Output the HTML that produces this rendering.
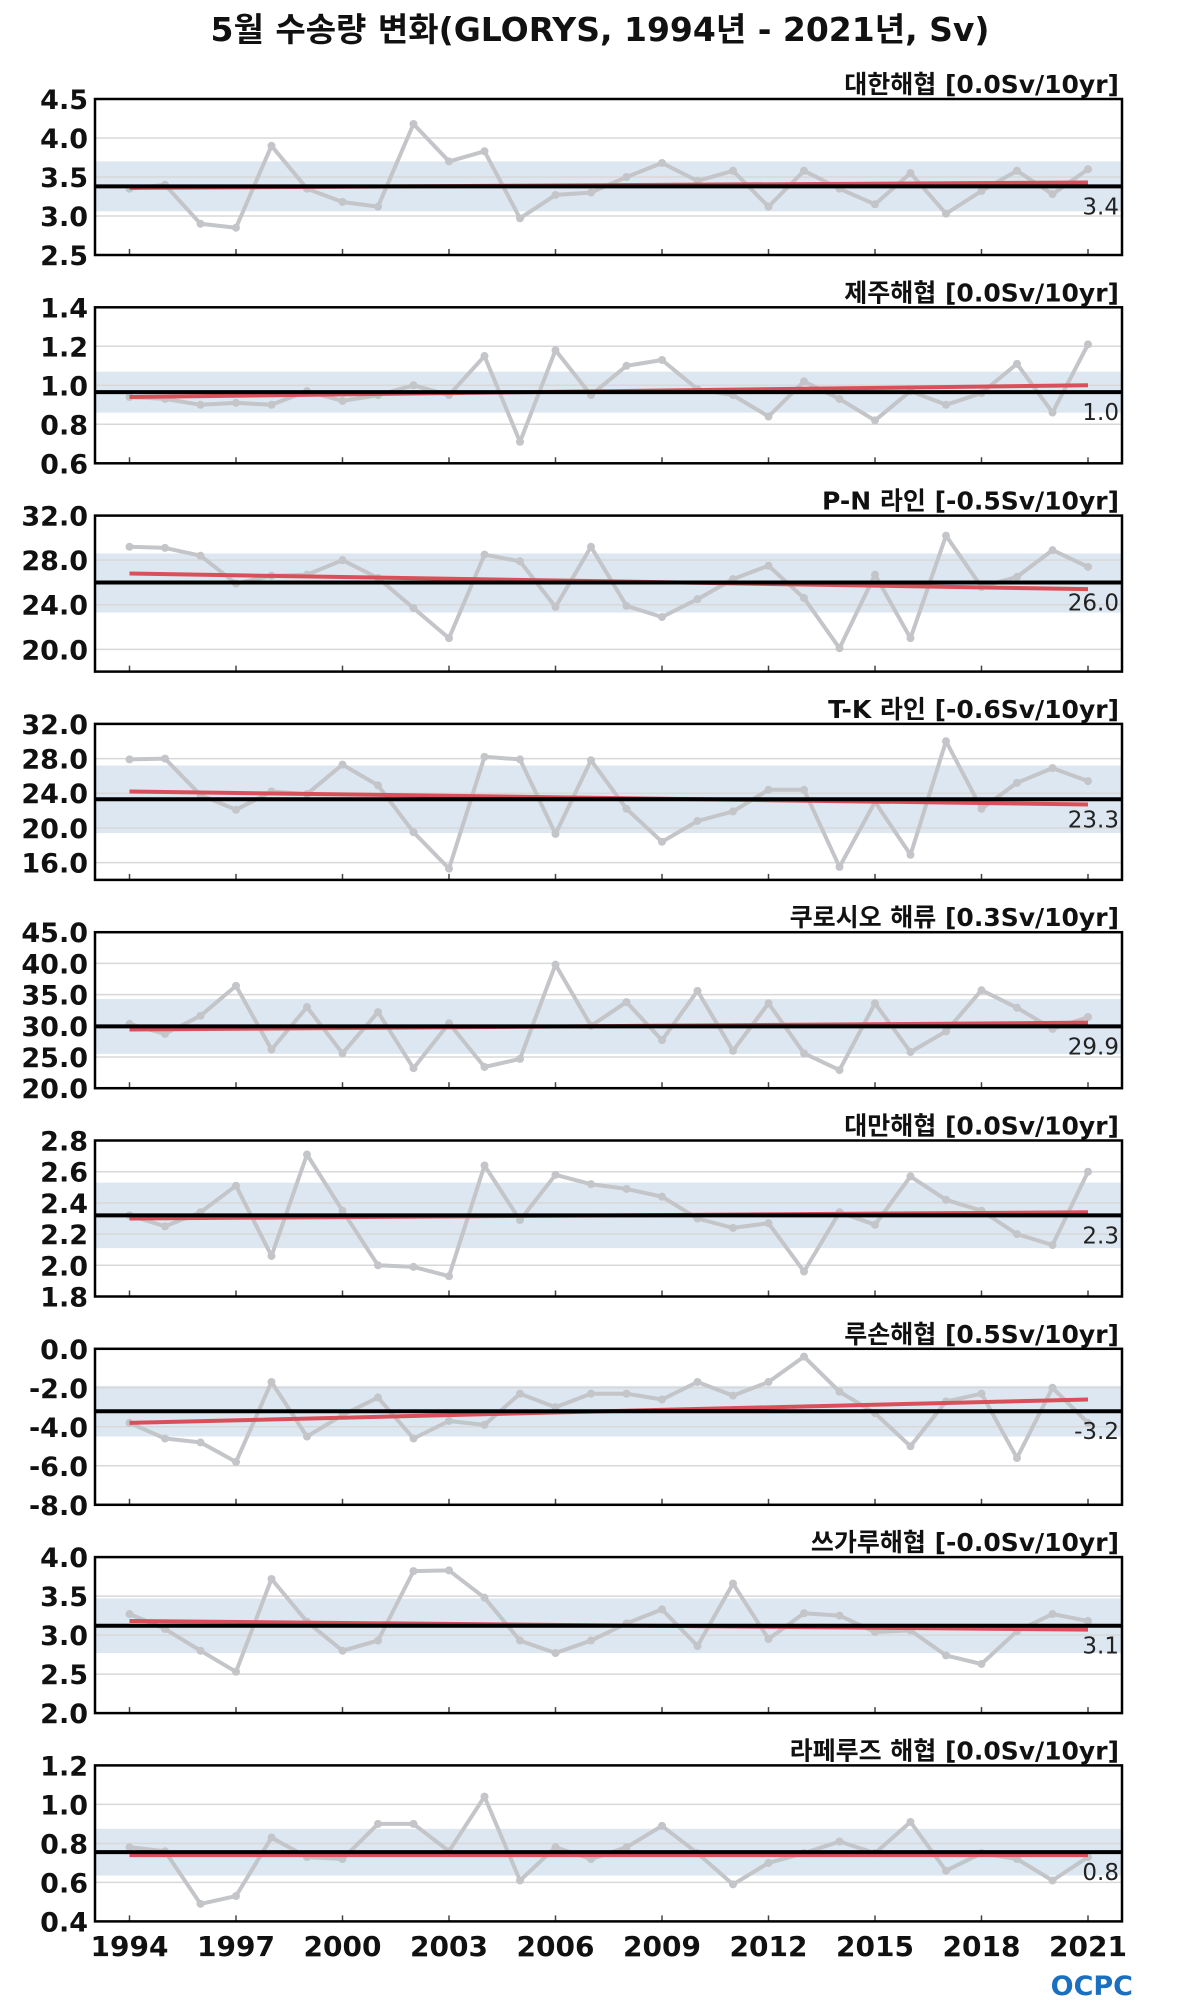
<!DOCTYPE html>
<html><head><meta charset="utf-8"><style>
html,body{margin:0;padding:0;background:#fff;}
svg{display:block;}
</style></head><body>
<svg id="chart" width="1200" height="2000" viewBox="0 0 1200 2000" xmlns="http://www.w3.org/2000/svg">
<text x="600" y="41" text-anchor="middle" font-family="DejaVu Sans, 'Noto Sans CJK KR', sans-serif" font-weight="bold" font-size="33" fill="#111">5월 수송량 변화(GLORYS, 1994년 - 2021년, Sv)</text>
<text x="1133" y="1995" text-anchor="end" font-family="DejaVu Sans, sans-serif" font-weight="bold" font-size="27" fill="#1a6fc0">OCPC</text>
</svg>
<script>
const years = [1994,1995,1996,1997,1998,1999,2000,2001,2002,2003,2004,2005,2006,2007,2008,2009,2010,2011,2012,2013,2014,2015,2016,2017,2018,2019,2020,2021];
const xTickYears = [1994,1997,2000,2003,2006,2009,2012,2015,2018,2021];
const panelNames = ["대한해협","제주해협","P-N 라인","T-K 라인","쿠로시오 해류","대만해협","루손해협","쓰가루해협","라페루즈 해협"];
const panelTrends = ["[0.0Sv/10yr]","[0.0Sv/10yr]","[-0.5Sv/10yr]","[-0.6Sv/10yr]","[0.3Sv/10yr]","[0.0Sv/10yr]","[0.5Sv/10yr]","[-0.0Sv/10yr]","[0.0Sv/10yr]"];
const yMin = [2.5,0.6,18,14,20,1.8,-8,2.0,0.4];
const yMax = [4.5,1.4,32,32,45,2.8,0,4.0,1.2];
const tickStart = [2.5,0.6,20,16,20,1.8,-8,2.0,0.4];
const tickStep = [0.5,0.2,4,4,5,0.2,2,0.5,0.2];
const s1 = [3.35,3.4,2.9,2.85,3.9,3.35,3.18,3.12,4.18,3.7,3.83,2.97,3.27,3.3,3.5,3.68,3.45,3.58,3.12,3.58,3.35,3.15,3.55,3.03,3.32,3.58,3.28,3.6];
const s2 = [0.94,0.93,0.9,0.91,0.9,0.97,0.92,0.95,1.0,0.95,1.15,0.71,1.18,0.95,1.1,1.13,0.98,0.95,0.84,1.02,0.93,0.82,0.97,0.9,0.96,1.11,0.86,1.21];
const s3 = [29.2,29.1,28.4,25.9,26.6,26.7,28.0,26.4,23.7,21.0,28.5,27.9,23.8,29.2,23.9,22.9,24.5,26.3,27.5,24.6,20.1,26.7,21.0,30.2,25.6,26.5,28.9,27.4];
const s4 = [27.9,28.0,23.8,22.1,24.2,23.9,27.3,24.9,19.5,15.3,28.2,27.9,19.3,27.8,22.2,18.4,20.8,21.9,24.4,24.4,15.5,23.0,16.9,30.0,22.2,25.2,26.9,25.4];
const s5 = [30.3,28.7,31.6,36.4,26.2,33.0,25.6,32.2,23.2,30.4,23.4,24.7,39.8,30.0,33.8,27.7,35.6,26.0,33.6,25.6,22.9,33.6,25.8,29.1,35.7,32.9,29.5,31.4];
const s6 = [2.32,2.25,2.34,2.51,2.06,2.71,2.35,2.0,1.99,1.93,2.64,2.29,2.58,2.52,2.49,2.44,2.3,2.24,2.27,1.96,2.34,2.26,2.57,2.42,2.35,2.2,2.13,2.6];
const s7 = [-3.8,-4.6,-4.8,-5.8,-1.7,-4.5,-3.4,-2.5,-4.6,-3.7,-3.9,-2.3,-3.0,-2.3,-2.3,-2.6,-1.7,-2.4,-1.7,-0.4,-2.2,-3.3,-5.0,-2.7,-2.3,-5.6,-2.0,-3.8];
const s8 = [3.27,3.08,2.8,2.53,3.72,3.17,2.8,2.93,3.82,3.83,3.48,2.93,2.77,2.93,3.15,3.33,2.86,3.66,2.95,3.28,3.25,3.04,3.06,2.74,2.63,3.05,3.27,3.18];
const s9 = [0.78,0.76,0.49,0.53,0.83,0.73,0.72,0.90,0.90,0.76,1.04,0.61,0.78,0.72,0.78,0.89,0.75,0.59,0.70,0.75,0.81,0.75,0.91,0.66,0.75,0.72,0.61,0.73];
const seriesList = [s1,s2,s3,s4,s5,s6,s7,s8,s9];
const means = [3.38,0.965,26.0,23.3,29.9,2.32,-3.2,3.12,0.755];
const meanLabels = ["3.4","1.0","26.0","23.3","29.9","2.3","-3.2","3.1","0.8"];
const bandLo = [3.06,0.86,23.3,19.4,25.5,2.11,-4.5,2.77,0.635];
const bandHi = [3.70,1.07,28.6,27.2,34.3,2.53,-1.9,3.47,0.875];
const trendStart = [3.36,0.94,26.8,24.2,29.4,2.30,-3.8,3.18,0.74];
const trendEnd = [3.43,1.00,25.4,22.7,30.5,2.34,-2.6,3.07,0.74];

const NS = "http://www.w3.org/2000/svg";
const svg = document.getElementById('chart');
const L = 95, R = 1122, H = 156;
const X0 = 129.5, X1 = 1088;
function xScale(yr){ return X0 + (yr - 1994) * (X1 - X0) / 27; }
function mk(tag, attrs, parent){ const e = document.createElementNS(NS, tag); for (const k in attrs) e.setAttribute(k, attrs[k]); (parent||svg).appendChild(e); return e; }
const FONT = "DejaVu Sans, 'Noto Sans CJK KR', sans-serif";

for (let p = 0; p < 9; p++) {
  const top = 99 + p * 208.3, bot = top + H;
  const lo = yMin[p], hi = yMax[p];
  const yS = v => bot - (v - lo) / (hi - lo) * H;
  const g = mk('g', {});
  
  
  const clipId = 'clip' + p;
  const cp = mk('clipPath', {id: clipId}, g);
  mk('rect', {x: L, y: top, width: R-L, height: H}, cp);
  const band = mk('rect', {x: L, y: yS(bandHi[p]), width: R-L, height: yS(bandLo[p]) - yS(bandHi[p]), fill: '#dde7f1'}, g);
  
  
  const nT = Math.round((hi - tickStart[p]) / tickStep[p]);
  for (let i = 0; i <= nT; i++) {
    const v = tickStart[p] + i * tickStep[p];
    const y = yS(v);
    const gl = mk('line', {x1: L, x2: R, y1: y, y2: y, stroke: '#d8d8d8', 'stroke-width': 1.5}, g);
    
    
    const t = mk('text', {x: 88, y: y + 10, 'text-anchor': 'end', 'font-family': FONT, 'font-weight': 'bold', 'font-size': 27, fill: '#111'}, g);
    t.textContent = v.toFixed(1);
    
    
  }
  xTickYears.forEach(yr => {
    const tk = mk('line', {x1: xScale(yr), x2: xScale(yr), y1: bot, y2: bot - 6, stroke: '#444', 'stroke-width': 1.5}, g);
    
    
  });
  const data = seriesList[p];
  const pts = data.map((v, i) => xScale(years[i]).toFixed(1) + ',' + yS(v).toFixed(1)).join(' ');
  const pl = mk('polyline', {points: pts, fill: 'none', stroke: '#c3c5c8', 'stroke-width': 4, 'stroke-linejoin': 'round', 'clip-path': 'url(#' + clipId + ')'}, g);
  
  
  data.forEach((v, i) => {
    const c = mk('circle', {cx: xScale(years[i]), cy: yS(v), r: 4, fill: '#c3c5c8'}, g);
    
    
  });
  const tr = mk('line', {x1: xScale(1994), x2: xScale(2021), y1: yS(trendStart[p]), y2: yS(trendEnd[p]), stroke: '#d9505a', 'stroke-width': 4}, g);
  
  
  const ml = mk('line', {x1: L, x2: R, y1: yS(means[p]), y2: yS(means[p]), stroke: '#000', 'stroke-width': 4}, g);
  
  
  const mt = mk('text', {x: R - 3, y: yS(means[p]) + 28, 'text-anchor': 'end', 'font-family': FONT, 'font-size': 23, fill: '#222'}, g);
  mt.textContent = meanLabels[p];
  
  
  const box = mk('rect', {x: L, y: top, width: R-L, height: H, fill: 'none', stroke: '#000', 'stroke-width': 2.5}, g);
  
  
  const pt = mk('text', {x: R - 3, y: top - 6, 'text-anchor': 'end', 'font-family': FONT, 'font-weight': 'bold', 'font-size': 25, fill: '#111'}, g);
  pt.textContent = panelNames[p] + ' ' + panelTrends[p];
  
  
}
xTickYears.forEach(yr => {
  const t = mk('text', {x: xScale(yr), y: 1956, 'text-anchor': 'middle', 'font-family': FONT, 'font-weight': 'bold', 'font-size': 28, fill: '#111'});
  t.textContent = yr;
  
  
});
</script>
</body></html>
